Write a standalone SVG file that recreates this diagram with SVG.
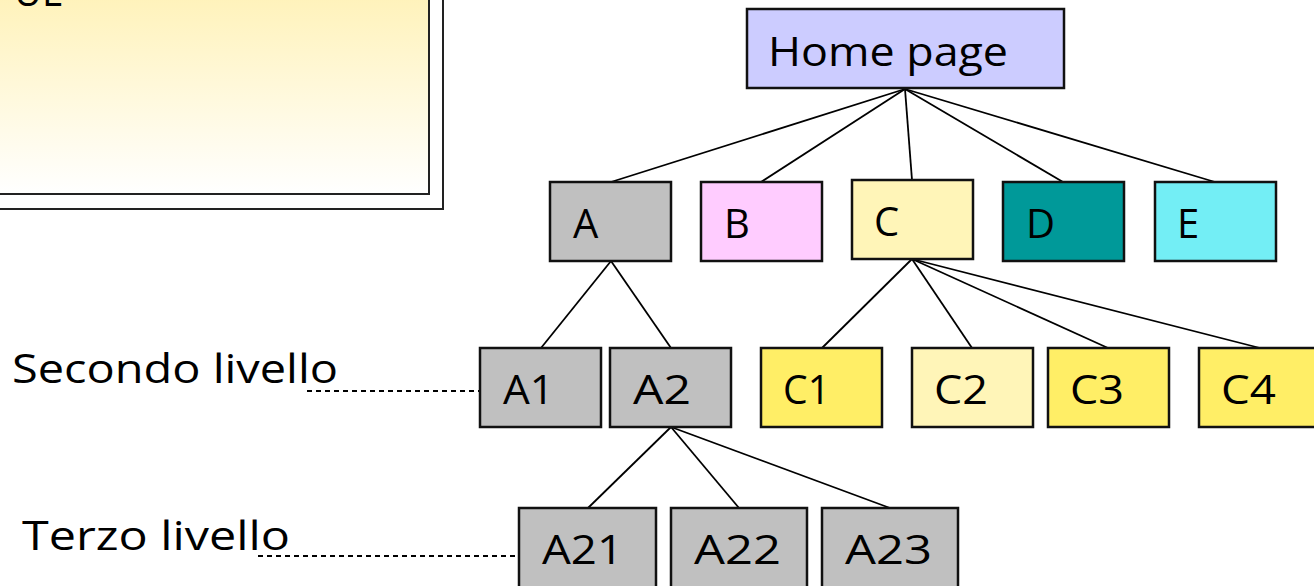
<svg xmlns="http://www.w3.org/2000/svg" width="1314" height="586" viewBox="0 0 1314 586">
<defs>
<linearGradient id="yg" x1="0" y1="0" x2="0" y2="1">
<stop offset="0" stop-color="#fff2b8"/>
<stop offset="1" stop-color="#ffffff"/>
</linearGradient>
</defs>
<style>
.n{stroke:#111;stroke-width:2.5}
.t{font-family:"Comic Sans MS","Open Sans","DejaVu Sans",sans-serif;font-size:40px;fill:#000}
.c line{stroke:#000;stroke-width:1.8}
.d{stroke:#000;stroke-width:1.3;stroke-dasharray:5 4}
</style>
<g id="frame">
<rect x="-10" y="-10" width="453" height="219" fill="#fff" stroke="#222" stroke-width="2"/>
<rect x="-10" y="-10" width="439" height="204" fill="url(#yg)" stroke="#222" stroke-width="2"/>
<text class="t" x="14" y="6" textLength="48" lengthAdjust="spacingAndGlyphs">UL</text>
</g>
<g class="c" id="connectors">
<line x1="905" y1="89" x2="611" y2="182"/>
<line x1="905" y1="89" x2="761" y2="182"/>
<line x1="905" y1="89" x2="912" y2="180"/>
<line x1="905" y1="89" x2="1063" y2="182"/>
<line x1="905" y1="89" x2="1215" y2="182"/>
<line x1="611" y1="261" x2="541" y2="348"/>
<line x1="611" y1="261" x2="671" y2="348"/>
<line x1="912" y1="259" x2="822" y2="348"/>
<line x1="912" y1="259" x2="972" y2="348"/>
<line x1="912" y1="259" x2="1108" y2="348"/>
<line x1="912" y1="259" x2="1260" y2="348"/>
<line x1="671" y1="427" x2="588" y2="508"/>
<line x1="671" y1="427" x2="739" y2="508"/>
<line x1="671" y1="427" x2="890" y2="508"/>
<line class="d" x1="307" y1="391" x2="483" y2="391"/>
<line class="d" x1="258" y1="556" x2="540" y2="556"/>
</g>
<g id="home"><rect class="n" x="747" y="9" width="317" height="79" fill="#ccccff"/><text class="t" x="768" y="66" textLength="240" lengthAdjust="spacingAndGlyphs">Home page</text></g>
<g id="A"><rect class="n" x="550" y="182" width="121" height="79" fill="#c0c0c0"/><text class="t" x="573" y="238">A</text></g>
<g id="B"><rect class="n" x="701" y="182" width="121" height="79" fill="#ffccff"/><text class="t" x="724" y="238">B</text></g>
<g id="C"><rect class="n" x="852" y="180" width="121" height="79" fill="#fff5b8"/><text class="t" x="874" y="236">C</text></g>
<g id="D"><rect class="n" x="1003" y="182" width="121" height="79" fill="#009999"/><text class="t" x="1026" y="238">D</text></g>
<g id="E"><rect class="n" x="1155" y="182" width="121" height="79" fill="#73eef5"/><text class="t" x="1177" y="238">E</text></g>
<g id="A1"><rect class="n" x="480" y="348" width="121" height="79" fill="#c0c0c0"/><text class="t" x="503" y="404" textLength="51" lengthAdjust="spacingAndGlyphs">A1</text></g>
<g id="A2"><rect class="n" x="610" y="348" width="121" height="79" fill="#c0c0c0"/><text class="t" x="633" y="404" textLength="58" lengthAdjust="spacingAndGlyphs">A2</text></g>
<g id="C1"><rect class="n" x="761" y="348" width="121" height="79" fill="#ffee66"/><text class="t" x="783" y="404" textLength="47" lengthAdjust="spacingAndGlyphs">C1</text></g>
<g id="C2"><rect class="n" x="912" y="348" width="121" height="79" fill="#fff5b8"/><text class="t" x="934" y="404" textLength="54" lengthAdjust="spacingAndGlyphs">C2</text></g>
<g id="C3"><rect class="n" x="1048" y="348" width="121" height="79" fill="#ffee66"/><text class="t" x="1070" y="404" textLength="54" lengthAdjust="spacingAndGlyphs">C3</text></g>
<g id="C4"><rect class="n" x="1199" y="348" width="121" height="79" fill="#ffee66"/><text class="t" x="1221" y="404" textLength="55" lengthAdjust="spacingAndGlyphs">C4</text></g>
<g id="A21"><rect class="n" x="519" y="508" width="137" height="90" fill="#c0c0c0"/><text class="t" x="542" y="564" textLength="81" lengthAdjust="spacingAndGlyphs">A21</text></g>
<g id="A22"><rect class="n" x="671" y="508" width="136" height="90" fill="#c0c0c0"/><text class="t" x="694" y="564" textLength="87" lengthAdjust="spacingAndGlyphs">A22</text></g>
<g id="A23"><rect class="n" x="822" y="508" width="136" height="90" fill="#c0c0c0"/><text class="t" x="845" y="564" textLength="87" lengthAdjust="spacingAndGlyphs">A23</text></g>
<g id="labels">
<text class="t" x="12" y="383" textLength="326" lengthAdjust="spacingAndGlyphs">Secondo livello</text>
<text class="t" x="22" y="550" textLength="268" lengthAdjust="spacingAndGlyphs">Terzo livello</text>
</g>
</svg>
